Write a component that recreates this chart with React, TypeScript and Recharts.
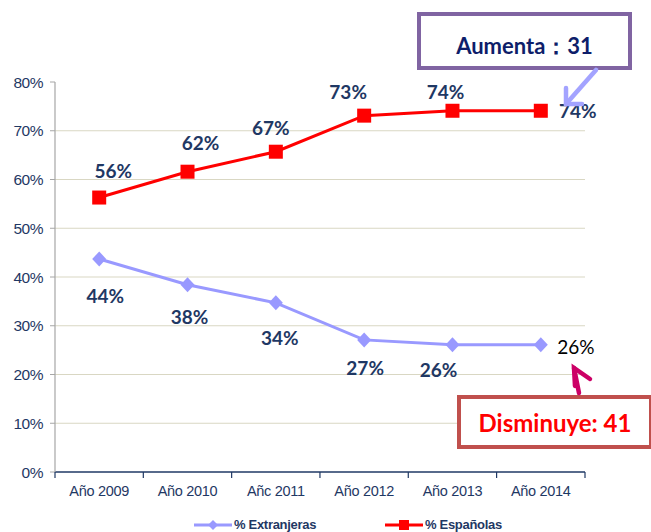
import React from "react";
import { LineChart, Line, XAxis, YAxis, CartesianGrid, Legend } from "recharts";

const years = ["Año 2009", "Año 2010", "Añc 2011", "Año 2012", "Año 2013", "Año 2014"];
const espanolas = [56.3, 61.6, 65.7, 73.1, 74.1, 74.1];
const extranjeras = [43.7, 38.4, 34.7, 27.1, 26.1, 26.1];
const espanolasLabels = ["56%", "62%", "67%", "73%", "74%", "74%"];
const extranjerasLabels = ["44%", "38%", "34%", "27%", "26%", "26%"];
const yTicks = [0, 10, 20, 30, 40, 50, 60, 70, 80];
const gridValues = [10, 20, 30, 40, 50, 60, 70];

// label offsets (dx, dy) relative to each point
const espOffsets = [[14, -27], [13, -29], [-5, -24], [-16, -24], [-7, -19], [37, 0]];
const extOffsets = [[6, 37], [2, 32], [4, 35], [1, 28], [-14, 25], [35, 2]];

const data = years.map((y, i) => ({ year: y, esp: espanolas[i], ext: extranjeras[i] }));

const NAVY = "#1F3864";
const HALF_STEP = 44.2;
const LABEL_FONT = "Lato, 'Open Sans', sans-serif";
const AXIS_FONT = "'Liberation Sans', Arial, sans-serif";

const SquareDot = (props: any) => {
  const { cx, cy } = props;
  if (cx == null || cy == null) return null;
  return <rect x={cx - 7} y={cy - 7} width={14} height={14} fill="#FF0000" />;
};

const DiamondDot = (props: any) => {
  const { cx, cy } = props;
  if (cx == null || cy == null) return null;
  return <path d={`M${cx},${cy - 7.5} L${cx + 7},${cy} L${cx},${cy + 7.5} L${cx - 7},${cy} Z`} fill="#9999FF" />;
};

const makeLabel = (labels: string[], offsets: number[][], lastStyle: any) => (props: any) => {
  const { x, y, index } = props;
  const [dx, dy] = offsets[index];
  const isLast = index === labels.length - 1;
  const style = isLast && lastStyle ? lastStyle : { fill: NAVY, fontWeight: 700 };
  return (
    <text
      x={x + dx}
      y={y + dy}
      textAnchor="middle"
      dominantBaseline="central"
      fontFamily={LABEL_FONT}
      fontSize={19}
      {...style}
    >
      {labels[index]}
    </text>
  );
};

const XTick = (props: any) => {
  const { x, y, payload } = props;
  const axisY = y - 8;
  const isLast = payload.value === years[years.length - 1];
  return (
    <g>
      <line x1={x - HALF_STEP} x2={x - HALF_STEP} y1={axisY} y2={axisY + 6} stroke={NAVY} strokeWidth={1.2} />
      {isLast && (
        <line x1={x + HALF_STEP} x2={x + HALF_STEP} y1={axisY} y2={axisY + 6} stroke={NAVY} strokeWidth={1.2} />
      )}
      <text x={x} y={y} dy={16} textAnchor="middle" fill={NAVY} fontFamily={AXIS_FONT} fontSize={14.5} letterSpacing={-0.3}>
        {payload.value}
      </text>
    </g>
  );
};

const LegendContent = () => (
  <div
    style={{
      height: 30,
      fontFamily: AXIS_FONT,
      fontSize: 13,
      fontWeight: 700,
      color: NAVY,
      position: "relative",
    }}
  >
    <div style={{ position: "absolute", left: 194, top: 15, display: "flex", alignItems: "center" }}>
      <svg width={38} height={12}>
        <line x1={0} x2={38} y1={6} y2={6} stroke="#9999FF" strokeWidth={3} />
        <path d="M19,1 L24,6 L19,11 L14,6 Z" fill="#9999FF" />
      </svg>
      <span style={{ marginLeft: 2, letterSpacing: -0.3 }}>% Extranjeras</span>
    </div>
    <div style={{ position: "absolute", left: 385, top: 15, display: "flex", alignItems: "center" }}>
      <svg width={38} height={12}>
        <line x1={0} x2={38} y1={6} y2={6} stroke="#FF0000" strokeWidth={3} />
        <rect x={14} y={1} width={10} height={10} fill="#FF0000" />
      </svg>
      <span style={{ marginLeft: 2, letterSpacing: -0.3 }}>% Españolas</span>
    </div>
  </div>
);

export default function App() {
  return (
    <div style={{ position: "absolute", left: 0, top: 0, width: 651, height: 532, overflow: "hidden", background: "#fff" }}>
      <LineChart width={651} height={532} data={data} margin={{ top: 82, right: 66, bottom: 0, left: 0 }}>
        <CartesianGrid vertical={false} horizontalValues={gridValues} stroke="#D9D7C3" strokeWidth={1} />
        <XAxis
          dataKey="year"
          padding={{ left: HALF_STEP, right: HALF_STEP }}
          height={30}
          tickLine={false}
          tickSize={6}
          tickMargin={2}
          axisLine={{ stroke: NAVY, strokeWidth: 1.5 }}
          tick={<XTick />}
          interval={0}
        />
        <YAxis
          width={55}
          domain={[0, 80]}
          ticks={yTicks}
          tickFormatter={(v: number) => `${v}%`}
          tickSize={5}
          tickMargin={7}
          axisLine={{ stroke: "#A6A6A6", strokeWidth: 1.2 }}
          tickLine={{ stroke: "#A6A6A6" }}
          tick={{ fill: NAVY, fontFamily: AXIS_FONT, fontSize: 15.5, letterSpacing: -0.5 }}
        />
        <Legend verticalAlign="bottom" height={30} content={<LegendContent />} />
        <Line
          type="linear"
          dataKey="ext"
          stroke="#9999FF"
          strokeWidth={3}
          dot={<DiamondDot />}
          activeDot={false}
          isAnimationActive={false}
          label={makeLabel(extranjerasLabels, extOffsets, { fill: "#000", fontWeight: 400 })}
        />
        <Line
          type="linear"
          dataKey="esp"
          stroke="#FF0000"
          strokeWidth={3}
          dot={<SquareDot />}
          activeDot={false}
          isAnimationActive={false}
          label={makeLabel(espanolasLabels, espOffsets, null)}
        />
      </LineChart>

      {/* Annotation boxes */}
      <div
        style={{
          position: "absolute",
          left: 417,
          top: 12,
          width: 215,
          height: 58,
          boxSizing: "border-box",
          border: "4px solid #8064A2",
          background: "#fff",
          display: "flex",
          alignItems: "center",
          justifyContent: "center",
          fontFamily: LABEL_FONT,
          fontWeight: 700,
          fontSize: 22,
          color: "#0E1E6A",
          paddingTop: 12,
        }}
      >
        Aumenta：31
      </div>
      <div
        style={{
          position: "absolute",
          left: 457,
          top: 395,
          width: 196,
          height: 54,
          boxSizing: "border-box",
          border: "4px solid #C0504D",
          background: "#fff",
          display: "flex",
          alignItems: "center",
          justifyContent: "center",
          fontFamily: LABEL_FONT,
          fontWeight: 700,
          fontSize: 24,
          color: "#FF0000",
        }}
      >
        Disminuye: 41
      </div>

      {/* Arrows */}
      <svg style={{ position: "absolute", left: 0, top: 0 }} width={651} height={532}>
        <g stroke="#A3A3FF" strokeWidth={4.5} strokeLinecap="round" fill="none">
          <line x1={596} y1={70} x2={566} y2={104} />
          <polyline points="566,88 566,104 582,104" />
        </g>
        <g stroke="#CC0066" strokeWidth={4.5} strokeLinecap="round" fill="none">
          <line x1={579} y1={393} x2={574} y2={368} />
          <polyline points="575,386 574,368 590,379" />
        </g>
      </svg>
    </div>
  );
}
